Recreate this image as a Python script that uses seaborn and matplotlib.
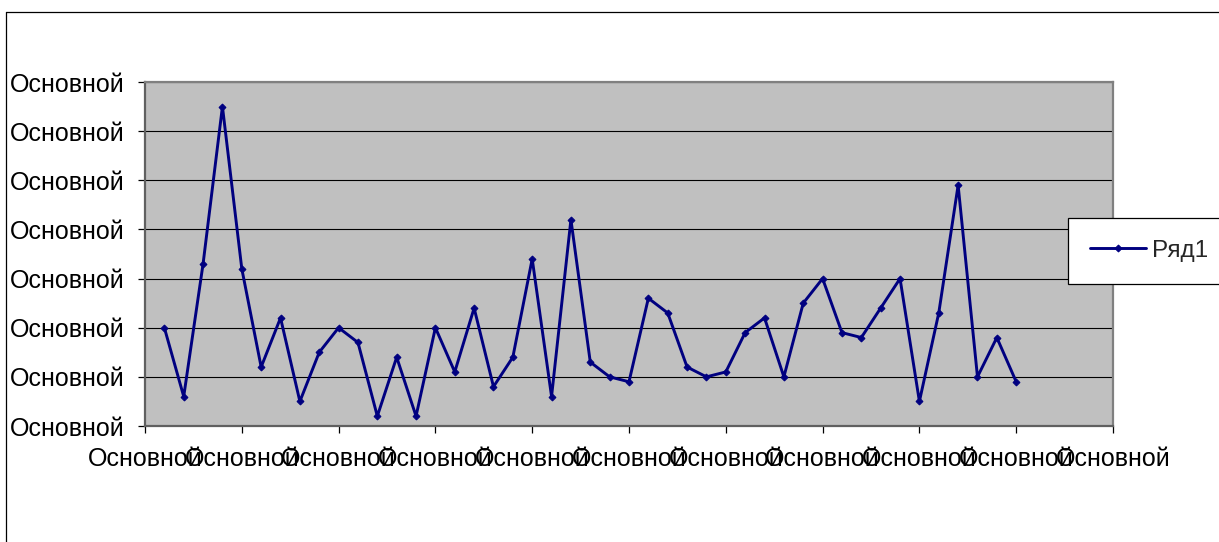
import numpy as np
import pandas as pd
import matplotlib
matplotlib.use("Agg")
import matplotlib.pyplot as plt
from matplotlib.lines import Line2D
import seaborn as sns

# Values (series "Ряд1")
series_name = "Ряд1"
values = [2.0, 0.6, 3.3, 6.5, 3.2, 1.2, 2.2, 0.5, 1.5, 2.0,
          1.7, 0.2, 1.4, 0.2, 2.0, 1.1, 2.4, 0.8, 1.4, 3.4,
          0.6, 4.2, 1.3, 1.0, 0.9, 2.6, 2.3, 1.2, 1.0, 1.1,
          1.9, 2.2, 1.0, 2.5, 3.0, 1.9, 1.8, 2.4, 3.0, 0.5,
          2.3, 4.9, 1.0, 1.8, 0.9]
x_ticks = [0, 5, 10, 15, 20, 25, 30, 35, 40, 45, 50]
y_ticks = [0, 1, 2, 3, 4, 5, 6, 7]
x_tick_labels = ["Основной"] * len(x_ticks)
y_tick_labels = ["Основной"] * len(y_ticks)

df = pd.DataFrame({"x": np.arange(1, len(values) + 1), "y": values})

sns.set_style("white")
plt.rcParams['font.family'] = ['Liberation Sans', 'DejaVu Sans']

W, H = 1219, 542
fig = plt.figure(figsize=(W / 100, H / 100), dpi=100)
ax = fig.add_axes([145 / W, 1 - 426 / H, (1113 - 145) / W, (426 - 82) / H])
ax.set_facecolor("#C0C0C0")

sns.lineplot(data=df, x="x", y="y", ax=ax, color="#000080", linewidth=2.1,
             marker="D", markersize=3.5, markeredgecolor="#000080",
             label=series_name)

ax.set_xlim(0, 50)
ax.set_ylim(0, 7)
ax.set_xticks(x_ticks)
ax.set_xticklabels(x_tick_labels)
ax.set_yticks(y_ticks)
ax.set_yticklabels(y_tick_labels)
ax.set_xlabel("")
ax.set_ylabel("")

# horizontal gridlines only, black
ax.yaxis.grid(True, color="black", linewidth=0.8)
ax.xaxis.grid(False)
ax.set_axisbelow(True)

for side in ["top", "right"]:
    ax.spines[side].set_color("#808080")
    ax.spines[side].set_linewidth(1.6)
for side in ["left", "bottom"]:
    ax.spines[side].set_color("#606060")
    ax.spines[side].set_linewidth(1.6)

ax.tick_params(axis="both", direction="out", length=5, width=0.9,
               color="black", labelsize=18, labelcolor="black")
ax.tick_params(axis="y", pad=10)
ax.tick_params(axis="x", pad=10)
ax.tick_params(bottom=True, left=True)

# legend box on the right side of the chart area
leg = ax.legend(loc="upper left", bbox_to_anchor=(1068 / W, 1 - 218 / H),
                bbox_transform=fig.transFigure, frameon=True, fancybox=False,
                fontsize=17.5, borderpad=0.9, handlelength=2.3,
                handletextpad=0.25, borderaxespad=0)
leg.get_frame().set_edgecolor("black")
leg.get_frame().set_linewidth(0.9)
leg.get_frame().set_alpha(1)

# outer chart-area border (top and left visible)
fig.add_artist(Line2D([6 / W, 6 / W], [0, 1 - 12 / H], transform=fig.transFigure,
                      color="black", linewidth=0.9))
fig.add_artist(Line2D([6 / W, 1], [1 - 12 / H, 1 - 12 / H], transform=fig.transFigure,
                      color="black", linewidth=0.9))

fig.savefig("out.png", dpi=100)
